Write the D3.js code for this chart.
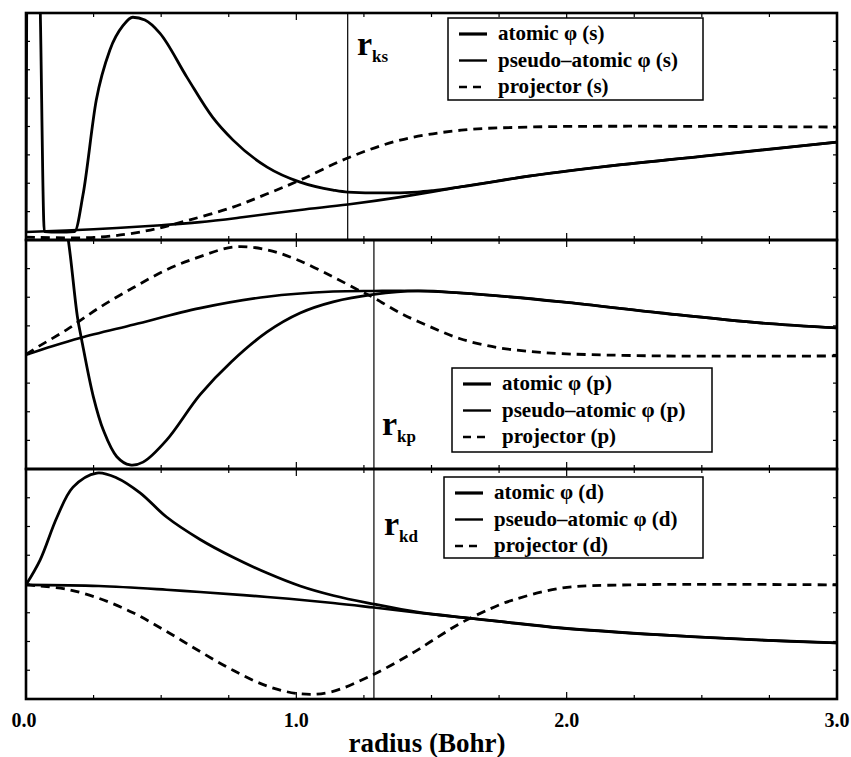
<!DOCTYPE html>
<html lang="en">
<head>
    <meta charset="UTF-8">
    <title>Atomic and pseudo-atomic orbitals</title>
    <script src="https://d3js.org/d3.v7.min.js"></script>
    <style>
        body { margin: 0; background: #fff; }
        svg { display: block; }
        text { font-family: "Liberation Serif", "Times New Roman", serif; font-weight: bold; fill: #000; }
    </style>
</head>
<body>
<svg width="851" height="757"></svg>
<script>
    // x axis (radius, Bohr)
    const xTickLabels = [0, 1, 2, 3];

    // panel values are in y-tick units (8 intervals per panel, 0 = panel bottom)
    // s channel
    const atomicS = [[0, 0.28], [0.004, 9.5], [0.05, 9.5], [0.053, 8], [0.068, 0.3], [0.12, 0.28], [0.18, 0.3],
        [0.211, 1.6], [0.26, 4.93], [0.31, 6.69], [0.36, 7.57], [0.395, 7.85], [0.44, 7.75],
        [0.495, 7.29], [0.595, 5.74], [0.69, 4.33], [0.766, 3.52], [0.892, 2.57], [1.014, 2.04], [1.136, 1.76],
        [1.19, 1.69], [1.32, 1.66], [1.447, 1.69], [1.506, 1.74], [1.606, 1.87], [1.86, 2.25], [2.124, 2.57],
        [2.5, 2.95], [3.0, 3.45]];
    const pseudoS = [[0, 0.28], [0.25, 0.38], [0.5, 0.52], [0.644, 0.63], [0.8, 0.8], [1.014, 1.06],
        [1.19, 1.25], [1.384, 1.51], [1.606, 1.87], [1.86, 2.25], [2.124, 2.57], [2.5, 2.95], [3.0, 3.45]];
    const projS = [[0, 0.1], [0.27, 0.1], [0.46, 0.35], [0.595, 0.68], [0.766, 1.16], [0.89, 1.62], [1.014, 2.11],
        [1.19, 2.89], [1.384, 3.52], [1.61, 3.87], [1.86, 3.98], [2.23, 4.01], [3.0, 3.98]];

    // p channel
    const atomicP = [[0.12, 10], [0.1565, 8.0], [0.19, 5.33], [0.206, 4.51], [0.249, 2.53], [0.286, 1.36],
        [0.336, 0.43], [0.385, 0.14], [0.433, 0.24], [0.52, 1.01], [0.644, 2.6], [0.76, 3.75],
        [0.892, 4.79], [1.014, 5.45], [1.136, 5.84], [1.287, 6.1], [1.45, 6.22], [1.606, 6.15],
        [1.98, 5.84], [2.35, 5.45], [2.72, 5.1], [3.0, 4.93]];
    const pseudoP = [[0, 3.99], [0.1, 4.3], [0.2, 4.58], [0.4, 5.05], [0.644, 5.62], [0.892, 6.02],
        [1.136, 6.2], [1.287, 6.22], [1.45, 6.22], [1.606, 6.15], [1.98, 5.84], [2.35, 5.45],
        [2.72, 5.1], [3.0, 4.93]];
    const projP = [[0, 4.0], [0.05, 4.3], [0.15, 4.86], [0.27, 5.63], [0.396, 6.33], [0.52, 6.96],
        [0.644, 7.42], [0.77, 7.76], [0.89, 7.66], [1.003, 7.31], [1.136, 6.71], [1.236, 6.22],
        [1.287, 5.98], [1.384, 5.45], [1.495, 4.97], [1.606, 4.55], [1.74, 4.25], [1.87, 4.1],
        [1.98, 4.03], [2.35, 3.95], [3.0, 3.95]];

    // d channel
    const atomicD = [[0, 3.97], [0.052, 4.83], [0.115, 6.33], [0.174, 7.37], [0.262, 7.86], [0.336, 7.69],
        [0.422, 7.17], [0.52, 6.33], [0.644, 5.55], [0.766, 4.93], [0.892, 4.38], [1.014, 3.93],
        [1.136, 3.6], [1.287, 3.3], [1.45, 3.02], [1.632, 2.82], [1.75, 2.7], [1.98, 2.47],
        [2.35, 2.23], [2.72, 2.05], [3.0, 1.95]];
    const pseudoD = [[0, 3.97], [0.27, 3.93], [0.52, 3.8], [0.644, 3.72], [0.892, 3.55], [1.136, 3.34],
        [1.287, 3.18], [1.45, 3.0], [1.632, 2.82], [1.75, 2.7], [1.98, 2.47], [2.35, 2.23],
        [2.72, 2.05], [3.0, 1.95]];
    const projD = [[0, 3.97], [0.052, 3.93], [0.15, 3.82], [0.27, 3.5], [0.396, 3.0], [0.52, 2.35],
        [0.644, 1.65], [0.766, 1.0], [0.892, 0.45], [1.014, 0.18], [1.125, 0.24], [1.28, 0.83],
        [1.43, 1.6], [1.506, 2.05], [1.61, 2.65], [1.75, 3.27], [1.8, 3.44], [1.98, 3.86],
        [2.23, 3.97], [3.0, 3.97]];

    const cutoffs = [1.19, 1.287, 1.287];
    const channels = ["s", "p", "d"];
    const cutoffLabels = ["ks", "kp", "kd"];

    const svg = d3.select("svg");
    const left = 26, right = 837;
    const panelEdges = [[13, 240], [240, 469], [469, 699]];

    const x = d3.scaleLinear().domain([0, 3]).range([left, right]);

    const panels = [
        { atomic: atomicS, pseudo: pseudoS, proj: projS, atomicCurve: d3.curveMonotoneX,
          legend: { x: 448, y: 18, w: 255, h: 82 }, label: { x: 357, y: 55 } },
        { atomic: atomicP, pseudo: pseudoP, proj: projP, atomicCurve: d3.curveCatmullRom.alpha(0.5),
          legend: { x: 452, y: 368, w: 260, h: 84 }, label: { x: 382, y: 435 } },
        { atomic: atomicD, pseudo: pseudoD, proj: projD, atomicCurve: d3.curveCatmullRom.alpha(0.5),
          legend: { x: 444, y: 477, w: 259, h: 81 }, label: { x: 384, y: 535 } }
    ];

    panels.forEach((p, i) => {
        const [top, bottom] = panelEdges[i];
        const y = d3.scaleLinear().domain([0, 8]).range([bottom, top]);
        const g = svg.append("g");

        g.append("clipPath").attr("id", "clip" + i)
            .append("rect").attr("x", left).attr("y", top)
            .attr("width", right - left).attr("height", bottom - top);

        const line = curve => d3.line()
            .x(d => x(d[0]))
            .y(d => y(d[1]))
            .curve(curve);
        const smooth = line(d3.curveCatmullRom.alpha(0.5));

        const curves = g.append("g").attr("clip-path", `url(#clip${i})`);

        // cutoff radius
        curves.append("line")
            .attr("x1", x(cutoffs[i])).attr("x2", x(cutoffs[i]))
            .attr("y1", top).attr("y2", bottom)
            .attr("stroke", "#000").attr("stroke-width", 1.2);

        curves.append("path").datum(p.proj)
            .attr("d", smooth).attr("fill", "none").attr("stroke", "#000")
            .attr("stroke-width", 2.8).attr("stroke-dasharray", "9,6");
        curves.append("path").datum(p.pseudo)
            .attr("d", smooth).attr("fill", "none").attr("stroke", "#000")
            .attr("stroke-width", 2.6);
        curves.append("path").datum(p.atomic)
            .attr("d", line(p.atomicCurve)).attr("fill", "none").attr("stroke", "#000")
            .attr("stroke-width", 2.8);

        // y ticks (inward, both sides)
        d3.range(1, 8).forEach(t => {
            g.append("line").attr("x1", left).attr("x2", left + 4)
                .attr("y1", y(t)).attr("y2", y(t)).attr("stroke", "#000").attr("stroke-width", 1.2);
            g.append("line").attr("x1", right - 4).attr("x2", right)
                .attr("y1", y(t)).attr("y2", y(t)).attr("stroke", "#000").attr("stroke-width", 1.2);
        });

        // x ticks (inward, top and bottom)
        d3.range(1, 12).forEach(k => {
            const r = k * 0.25;
            const len = (k % 4 === 0) ? 7 : 4;
            g.append("line").attr("x1", x(r)).attr("x2", x(r))
                .attr("y1", bottom).attr("y2", bottom - len).attr("stroke", "#000").attr("stroke-width", 1.2);
            g.append("line").attr("x1", x(r)).attr("x2", x(r))
                .attr("y1", top).attr("y2", top + len).attr("stroke", "#000").attr("stroke-width", 1.2);
        });

        // frame
        g.append("rect").attr("x", left).attr("y", top)
            .attr("width", right - left).attr("height", bottom - top)
            .attr("fill", "none").attr("stroke", "#000").attr("stroke-width", 2.6);

        // cutoff label r_k?
        const lab = g.append("text").attr("x", p.label.x).attr("y", p.label.y);
        lab.append("tspan").attr("font-size", 34).text("r");
        lab.append("tspan").attr("font-size", 17).attr("dy", 7).text(cutoffLabels[i]);

        // legend
        const L = p.legend;
        const lg = g.append("g");
        lg.append("rect").attr("x", L.x).attr("y", L.y).attr("width", L.w).attr("height", L.h)
            .attr("fill", "#fff").attr("stroke", "#000").attr("stroke-width", 1.5);
        const ch = channels[i];
        const entries = [
            { name: `atomic φ (${ch})`, dash: null, w: 3.2 },
            { name: `pseudo–atomic φ (${ch})`, dash: null, w: 2.4 },
            { name: `projector (${ch})`, dash: "8,6", w: 2.4 }
        ];
        entries.forEach((e, j) => {
            const cy = L.y + 16 + 26.5 * j;
            lg.append("line").attr("x1", L.x + 11).attr("x2", L.x + 39)
                .attr("y1", cy).attr("y2", cy).attr("stroke", "#000")
                .attr("stroke-width", e.w).attr("stroke-dasharray", e.dash);
            lg.append("text").attr("x", L.x + 50).attr("y", cy + 6)
                .attr("font-size", 21).text(e.name);
        });
    });

    // x tick labels
    svg.selectAll(".xlab").data(xTickLabels).enter().append("text")
        .attr("class", "xlab")
        .attr("x", d => x(d) - (d === 0 ? 2 : 0)).attr("y", 727)
        .attr("text-anchor", "middle")
        .attr("font-size", 20)
        .text(d => d3.format(".1f")(d));

    svg.append("text").attr("x", 427).attr("y", 752)
        .attr("text-anchor", "middle").attr("font-size", 27)
        .text("radius (Bohr)");
</script>
</body>
</html>
